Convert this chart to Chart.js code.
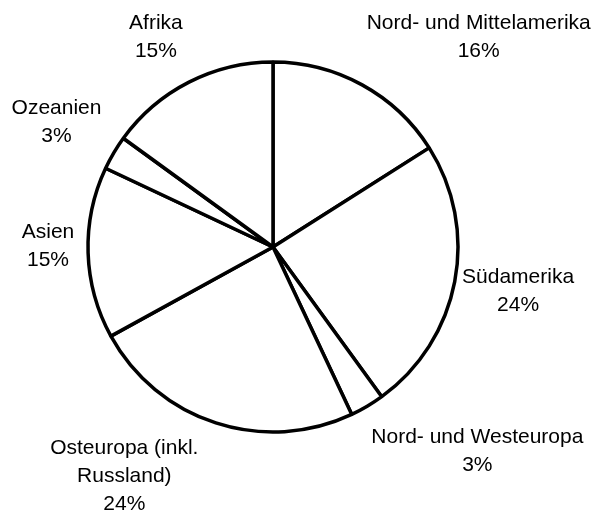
<!DOCTYPE html>
<html>
<head>
<meta charset="utf-8">
<script src="https://cdn.jsdelivr.net/npm/chart.js@4"></script>
<style>
  html, body { margin: 0; padding: 0; background: #fff; }
  #wrap { width: 593px; height: 513px; }
</style>
</head>
<body>
<div id="wrap"><canvas id="region-chart" width="593" height="513"></canvas></div>
<script>
const regions = ["Nord- und Mittelamerika", "Südamerika", "Nord- und Westeuropa", "Osteuropa (inkl. Russland)", "Asien", "Ozeanien", "Afrika"];
const shares = [16, 24, 3, 24, 15, 3, 15];
// how the label text breaks into lines
const labelLines = [
    ["Nord- und Mittelamerika"],
    ["Südamerika"],
    ["Nord- und Westeuropa"],
    ["Osteuropa (inkl.", "Russland)"],
    ["Asien"],
    ["Ozeanien"],
    ["Afrika"]
];
// label placement: angle nudge from slice middle (deg), distance from centre (px)
const labelNudge = [15.6, -0.6, -14.4, 15, 2, -0.6, -2.2];
const labelDist = [294, 249, 289, 273, 225, 250, 240];

const pieLabels = {
    id: 'pieLabels',
    afterDatasetsDraw(chart) {
        const ctx = chart.ctx;
        const meta = chart.getDatasetMeta(0);
        ctx.save();
        ctx.font = '21px "Liberation Sans", Arial, sans-serif';
        ctx.fillStyle = '#000';
        ctx.textAlign = 'center';
        ctx.textBaseline = 'middle';
        const lh = 28;
        meta.data.forEach((arc, i) => {
            const p = arc.getProps(['x', 'y', 'startAngle', 'endAngle'], true);
            const mid = (p.startAngle + p.endAngle) / 2 + labelNudge[i] * Math.PI / 180;
            const lx = p.x + labelDist[i] * Math.cos(mid);
            const ly = p.y + labelDist[i] * Math.sin(mid);
            const lines = labelLines[i].concat([shares[i] + '%']);
            const top = ly - (lines.length - 1) * lh / 2;
            lines.forEach((t, k) => ctx.fillText(t, lx, top + k * lh));
        });
        ctx.restore();
    }
};

const regionCanvas = document.getElementById('region-chart');
let regionChart = new Chart(regionCanvas, {
    type: 'pie',
    data: {
        labels: regions,
        datasets: [{
            data: shares,
            backgroundColor: '#fff',
            borderColor: '#000',
            borderWidth: 3.5
        }]
    },
    options: {
        responsive: false,
        animation: false,
        radius: 185,
        layout: {
            padding: { left: 0, right: 47, top: 0, bottom: 19 }
        },
        plugins: {
            legend: { display: false },
            tooltip: { enabled: false }
        }
    },
    plugins: [pieLabels]
});
</script>
</body>
</html>
